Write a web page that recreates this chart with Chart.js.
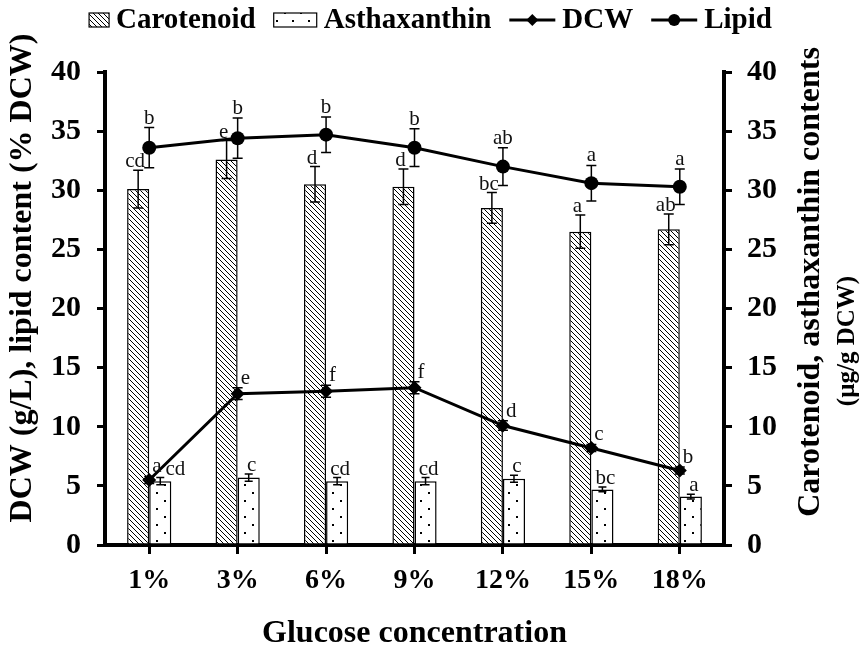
<!DOCTYPE html>
<html>
<head>
<meta charset="utf-8">
<script src="https://cdn.jsdelivr.net/npm/chart.js@4.4.1/dist/chart.umd.min.js"></script>
<style>
  html, body { margin: 0; padding: 0; background: #fff; }
  #wrap { width: 865px; height: 653px; }
</style>
</head>
<body>
<div id="wrap"><canvas id="myChart" width="865" height="653"></canvas></div>
<script>
// data
var glucoseLabels = ['1%', '3%', '6%', '9%', '12%', '15%', '18%'];

var carotenoidValues = [30.1, 32.6, 30.5, 30.3, 28.5, 26.5, 26.7];
var carotenoidErrors = [1.6, 1.6, 1.5, 1.5, 1.3, 1.4, 1.3];
var carotenoidLetters = ['cd', 'e', 'd', 'd', 'bc', 'a', 'ab'];

var asthaxanthinValues = [5.4, 5.7, 5.4, 5.4, 5.6, 4.7, 4.1];
var asthaxanthinErrors = [0.3, 0.3, 0.3, 0.3, 0.3, 0.2, 0.2];
var asthaxanthinLetters = ['cd', 'c', 'cd', 'cd', 'c', 'bc', 'a'];

var dcwValues = [5.5, 12.8, 13.0, 13.3, 10.1, 8.2, 6.3];
var dcwErrors = [0.3, 0.5, 0.5, 0.5, 0.4, 0.3, 0.3];
var dcwLetters = ['a', 'e', 'f', 'f', 'd', 'c', 'b'];

var lipidValues = [33.6, 34.4, 34.7, 33.6, 32.0, 30.6, 30.3];
var lipidErrors = [1.7, 1.7, 1.5, 1.6, 1.6, 1.5, 1.5];
var lipidLetters = ['b', 'b', 'b', 'b', 'ab', 'a', 'a'];

var axisMin = 0;
var axisMax = 40;
var axisStep = 5;

var leftTitle = 'DCW (g/L), lipid content (% DCW)';
var rightTitle = ['Carotenoid, asthaxanthin contents', '(\u00b5g/g DCW)'];
var bottomTitle = 'Glucose concentration';

var serif = '"Liberation Serif", "Times New Roman", serif';

var canvas = document.getElementById('myChart');
var mainCtx = canvas.getContext('2d');

function makeHatch() {
    var c = document.createElement('canvas');
    c.width = 5; c.height = 5;
    var g = c.getContext('2d');
    g.fillStyle = '#fff';
    g.fillRect(0, 0, 5, 5);
    g.strokeStyle = '#000';
    g.lineWidth = 1;
    g.beginPath();
    g.moveTo(-1, -1); g.lineTo(6, 6);
    g.moveTo(-1, 4); g.lineTo(1, 6);
    g.moveTo(4, -1); g.lineTo(6, 1);
    g.stroke();
    return mainCtx.createPattern(c, 'repeat');
}

function makeDots() {
    var c = document.createElement('canvas');
    c.width = 16; c.height = 16;
    var g = c.getContext('2d');
    g.fillStyle = '#fff';
    g.fillRect(0, 0, 16, 16);
    g.fillStyle = '#000';
    g.fillRect(4, 4, 2, 2);
    g.fillRect(12, 12, 2, 2);
    return mainCtx.createPattern(c, 'repeat');
}

var hatchFill = makeHatch();
var dotFill = makeDots();

// error bars + significance letters
var errorBarPlugin = {
    id: 'errorBars',
    afterDatasetsDraw: function (chart) {
        var ctx = chart.ctx;
        var labels = [];
        ctx.save();
        chart.data.datasets.forEach(function (ds, di) {
            var meta = chart.getDatasetMeta(di);
            var scale = chart.scales[meta.yAxisID];
            meta.data.forEach(function (el, i) {
                var v = ds.data[i], e = ds.errors[i];
                var x = el.x;
                var yTop = scale.getPixelForValue(v + e);
                var yBot = scale.getPixelForValue(v - e);
                var cap = ds.capHalf;
                ctx.strokeStyle = '#000';
                ctx.lineWidth = 1.5;
                ctx.beginPath();
                ctx.moveTo(x, yTop); ctx.lineTo(x, yBot);
                ctx.moveTo(x - cap, yTop); ctx.lineTo(x + cap, yTop);
                ctx.moveTo(x - cap, yBot); ctx.lineTo(x + cap, yBot);
                ctx.stroke();
                labels.push({ ds: ds, text: ds.letters[i], x: x + ds.letterDx, y: yTop + ds.letterDy, line: ds.type === 'line' });
            });
        });

        // line letters first, then bar letters pushed right if they collide
        ctx.font = '21px ' + serif;
        ctx.fillStyle = '#111';
        ctx.textBaseline = 'alphabetic';
        var placed = [];
        labels.sort(function (a, b) { return (b.line ? 1 : 0) - (a.line ? 1 : 0); });
        labels.forEach(function (lb) {
            var w = ctx.measureText(lb.text).width;
            var left = lb.ds.letterAlign === 'left' ? lb.x : lb.x - w / 2;
            var box = { l: left, r: left + w, t: lb.y - 14, b: lb.y };
            placed.forEach(function (p) {
                if (box.l < p.r + 3 && box.r > p.l && box.t < p.b && box.b > p.t) {
                    var shift = p.r + 4 - box.l;
                    box.l += shift; box.r += shift;
                }
            });
            ctx.textAlign = 'left';
            ctx.fillText(lb.text, box.l, lb.y);
            placed.push(box);
        });
        ctx.restore();
    }
};

// legend on top: box / line symbols, bold serif text
var legendPlugin = {
    id: 'topLegend',
    afterDraw: function (chart) {
        var ctx = chart.ctx;
        var cy = 20;
        ctx.save();
        ctx.font = 'bold 29px ' + serif;
        var gapIn = 7, gapOut = 18;
        var total = 0;
        chart.data.datasets.forEach(function (ds, i) {
            total += ds.legendWidth + gapIn + ctx.measureText(ds.label).width;
            if (i > 0) total += gapOut;
        });
        var x = chart.width / 2 - total / 2 - 2;
        chart.data.datasets.forEach(function (ds) {
            var w = ds.legendWidth;
            if (ds.type === 'line') {
                ctx.strokeStyle = '#000';
                ctx.lineWidth = 3;
                ctx.beginPath();
                ctx.moveTo(x, cy); ctx.lineTo(x + w, cy);
                ctx.stroke();
                ctx.fillStyle = '#000';
                ctx.beginPath();
                if (ds.pointStyle === 'rectRot') {
                    ctx.moveTo(x + w / 2, cy - 6);
                    ctx.lineTo(x + w / 2 + 6, cy);
                    ctx.lineTo(x + w / 2, cy + 6);
                    ctx.lineTo(x + w / 2 - 6, cy);
                    ctx.closePath();
                } else {
                    ctx.arc(x + w / 2, cy, 6, 0, Math.PI * 2);
                }
                ctx.fill();
            } else {
                ctx.fillStyle = ds.backgroundColor;
                ctx.fillRect(x, cy - 7, w, 14);
                ctx.strokeStyle = '#000';
                ctx.lineWidth = 1.2;
                ctx.strokeRect(x, cy - 7, w, 14);
            }
            x += w + gapIn;
            ctx.fillStyle = '#000';
            ctx.textAlign = 'left';
            ctx.textBaseline = 'middle';
            ctx.fillText(ds.label, x, cy + 1);
            x += ctx.measureText(ds.label).width + gapOut;
        });
        ctx.restore();
    }
};

// vertical axis titles, both read bottom to top
var axisTitlePlugin = {
    id: 'axisTitles',
    afterDraw: function (chart) {
        var ctx = chart.ctx;
        ctx.save();
        ctx.fillStyle = '#000';
        ctx.textAlign = 'center';
        ctx.textBaseline = 'middle';

        ctx.save();
        ctx.translate(23, 278);
        ctx.rotate(-Math.PI / 2);
        ctx.font = 'bold 32px ' + serif;
        ctx.fillText(leftTitle, 0, 0);
        ctx.restore();

        ctx.save();
        ctx.translate(811, 282);
        ctx.rotate(-Math.PI / 2);
        ctx.font = 'bold 32px ' + serif;
        ctx.fillText(rightTitle[0], 0, 0);
        ctx.restore();

        ctx.save();
        ctx.translate(848, 341);
        ctx.rotate(-Math.PI / 2);
        ctx.font = 'bold 25px ' + serif;
        ctx.fillText(rightTitle[1], 0, 0);
        ctx.restore();

        ctx.restore();
    }
};

new Chart(canvas, {
    type: 'bar',
    data: {
        labels: glucoseLabels,
        datasets: [{
            label: 'Carotenoid',
            data: carotenoidValues,
            errors: carotenoidErrors,
            letters: carotenoidLetters,
            letterAlign: 'center', letterDx: -3, letterDy: -3,
            capHalf: 5,
            legendWidth: 20,
            yAxisID: 'y1',
            backgroundColor: hatchFill,
            borderColor: '#000',
            borderWidth: 1.5,
            order: 1
        }, {
            label: 'Asthaxanthin',
            data: asthaxanthinValues,
            errors: asthaxanthinErrors,
            letters: asthaxanthinLetters,
            letterAlign: 'center', letterDx: 3, letterDy: -3,
            capHalf: 4,
            legendWidth: 43,
            yAxisID: 'y1',
            backgroundColor: dotFill,
            borderColor: '#000',
            borderWidth: 1.5,
            order: 1
        }, {
            type: 'line',
            label: 'DCW',
            data: dcwValues,
            errors: dcwErrors,
            letters: dcwLetters,
            letterAlign: 'left', letterDx: 3, letterDy: -4,
            capHalf: 5,
            legendWidth: 46,
            yAxisID: 'y',
            borderColor: '#000',
            backgroundColor: '#000',
            borderWidth: 3,
            pointStyle: 'rectRot',
            pointRadius: 7,
            pointBorderWidth: 0,
            tension: 0,
            order: 0
        }, {
            type: 'line',
            label: 'Lipid',
            data: lipidValues,
            errors: lipidErrors,
            letters: lipidLetters,
            letterAlign: 'center', letterDx: 0, letterDy: -4,
            capHalf: 5,
            legendWidth: 46,
            yAxisID: 'y',
            borderColor: '#000',
            backgroundColor: '#000',
            borderWidth: 3,
            pointStyle: 'circle',
            pointRadius: 7,
            pointBorderWidth: 0,
            tension: 0,
            order: 0
        }]
    },
    options: {
        responsive: false,
        animation: false,
        devicePixelRatio: 1,
        layout: { padding: { top: 72, left: 0, right: 0, bottom: 0 } },
        datasets: {
            bar: { categoryPercentage: 0.5, barPercentage: 1.0 }
        },
        plugins: {
            legend: { display: false },
            tooltip: { enabled: false }
        },
        scales: {
            x: {
                z: 1,
                grid: { display: true, drawOnChartArea: false, drawTicks: true, tickLength: 9, color: '#000', lineWidth: 3, offset: false },
                border: { display: true, color: '#000', width: 4 },
                ticks: { color: '#000', font: { family: serif, size: 28, weight: 'bold' }, padding: 10, maxRotation: 0 },
                title: { display: true, text: bottomTitle, color: '#000', font: { family: serif, size: 32, weight: 'bold' }, padding: { top: 0, bottom: 0 } },
                afterFit: function (s) { s.height = 108; }
            },
            y: {
                position: 'left',
                min: axisMin, max: axisMax,
                grid: { display: true, drawOnChartArea: false, drawTicks: true, tickLength: 8, color: '#000', lineWidth: 3 },
                border: { display: true, color: '#000', width: 4 },
                ticks: { stepSize: axisStep, color: '#000', font: { family: serif, size: 30, weight: 'bold' }, padding: 16 },
                afterFit: function (s) { s.width = 105; }
            },
            y1: {
                position: 'right',
                min: axisMin, max: axisMax,
                grid: { display: true, drawOnChartArea: false, drawTicks: true, tickLength: 8, color: '#000', lineWidth: 3 },
                border: { display: true, color: '#000', width: 4 },
                ticks: { stepSize: axisStep, color: '#000', font: { family: serif, size: 30, weight: 'bold' }, padding: 15 },
                afterFit: function (s) { s.width = 141; }
            }
        }
    },
    plugins: [errorBarPlugin, legendPlugin, axisTitlePlugin]
});
</script>
</body>
</html>
